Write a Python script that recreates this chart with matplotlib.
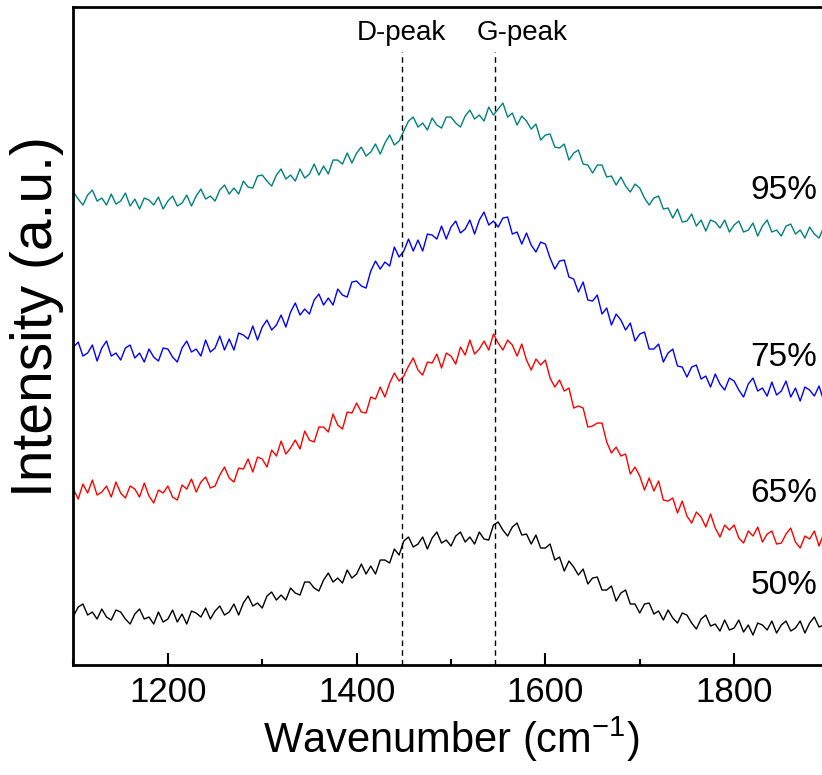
import numpy as np
import matplotlib
matplotlib.use("Agg")
import matplotlib.pyplot as plt
from matplotlib.ticker import MultipleLocator

plt.rcParams['font.family'] = ['Liberation Sans', 'DejaVu Sans']
plt.rcParams['mathtext.default'] = 'regular'

# wavenumber grid, 5 cm-1 step
wavenumber = np.arange(1100, 1901, 5)

# offset spectra (arbitrary units)
s95 = [473, 466, 460, 470, 475, 464, 467, 460, 471, 461,
       464, 472, 459, 466, 456, 467, 465, 460, 468, 456,
       464, 469, 459, 462, 470, 459, 469, 476, 466, 469,
       464, 475, 480, 471, 477, 471, 484, 478, 477, 489,
       490, 484, 479, 490, 496, 486, 490, 484, 496, 487,
       491, 501, 490, 499, 491, 505, 505, 501, 512, 502,
       512, 518, 509, 513, 521, 511, 522, 530, 520, 524,
       534, 544, 548, 538, 542, 535, 547, 540, 537, 548,
       548, 542, 538, 549, 555, 546, 550, 544, 558, 550,
       556, 562, 548, 552, 540, 549, 544, 536, 541, 525,
       530, 531, 518, 517, 521, 505, 512, 515, 501, 500,
       492, 500, 500, 488, 489, 480, 488, 479, 473, 481,
       477, 467, 460, 467, 469, 456, 457, 447, 456, 443,
       444, 451, 439, 445, 434, 445, 443, 437, 445, 433,
       440, 444, 433, 435, 442, 429, 439, 445, 433, 435,
       429, 439, 441, 431, 435, 427, 438, 431, 427, 438,
       432]

s75 = [318, 323, 309, 312, 320, 304, 317, 324, 309, 312,
       305, 317, 320, 307, 312, 303, 316, 308, 304, 317,
       316, 308, 303, 317, 324, 313, 316, 309, 325, 313,
       317, 329, 315, 326, 315, 332, 330, 326, 339, 325,
       338, 345, 335, 340, 350, 338, 353, 362, 350, 356,
       351, 365, 371, 360, 367, 360, 376, 370, 368, 383,
       384, 379, 377, 394, 404, 396, 403, 399, 418, 408,
       414, 426, 414, 425, 414, 431, 430, 426, 439, 426,
       438, 444, 432, 436, 445, 431, 445, 453, 440, 444,
       438, 447, 448, 431, 433, 421, 432, 420, 413, 423,
       421, 407, 396, 404, 405, 388, 386, 373, 383, 365,
       364, 370, 351, 357, 340, 351, 345, 335, 342, 324,
       331, 333, 316, 316, 321, 303, 312, 316, 299, 298,
       288, 298, 300, 286, 289, 278, 291, 281, 275, 287,
       284, 275, 268, 281, 287, 274, 277, 269, 283, 270,
       274, 284, 268, 277, 264, 278, 275, 269, 279, 264,
       270]

s65 = [176, 166, 181, 172, 185, 170, 173, 179, 168, 183,
       172, 167, 179, 176, 168, 182, 169, 162, 175, 172,
       179, 168, 165, 180, 176, 186, 173, 183, 188, 177,
       179, 190, 198, 187, 183, 197, 196, 206, 193, 208,
       206, 198, 215, 209, 224, 211, 217, 225, 216, 234,
       225, 223, 238, 238, 233, 251, 240, 236, 253, 252,
       262, 253, 252, 268, 266, 278, 268, 282, 292, 284,
       289, 299, 307, 295, 290, 303, 302, 311, 297, 312,
       309, 301, 318, 310, 325, 311, 316, 324, 315, 331,
       322, 315, 325, 320, 309, 321, 305, 295, 306, 300,
       305, 287, 278, 285, 274, 277, 257, 259, 257, 238,
       239, 242, 242, 223, 212, 218, 209, 211, 191, 198,
       189, 175, 187, 174, 184, 165, 164, 167, 152, 164,
       149, 142, 153, 148, 138, 151, 137, 128, 140, 135,
       140, 127, 122, 134, 129, 138, 123, 131, 134, 121,
       122, 131, 137, 123, 117, 129, 126, 134, 119, 132,
       126]

s50 = [49, 58, 61, 50, 53, 46, 56, 48, 45, 55,
       53, 46, 41, 51, 56, 46, 48, 41, 53, 43,
       46, 55, 43, 51, 41, 54, 52, 48, 57, 46,
       54, 59, 50, 53, 61, 50, 62, 69, 59, 62,
       57, 69, 73, 65, 70, 65, 77, 72, 70, 83,
       83, 77, 74, 85, 92, 83, 87, 82, 95, 87,
       91, 101, 91, 99, 91, 105, 105, 102, 116, 110,
       124, 128, 118, 121, 128, 116, 127, 133, 122, 125,
       119, 129, 133, 123, 128, 121, 133, 126, 125, 140,
       143, 135, 129, 138, 142, 130, 131, 121, 130, 117,
       117, 121, 105, 108, 94, 104, 98, 90, 96, 81,
       87, 88, 75, 75, 79, 64, 72, 75, 61, 61,
       52, 61, 62, 51, 54, 45, 55, 47, 42, 52,
       50, 42, 36, 46, 50, 39, 41, 34, 45, 35,
       37, 45, 33, 40, 30, 42, 40, 35, 44, 32,
       40, 44, 34, 37, 44, 32, 42, 48, 38, 40,
       38]

labels = ['95%', '75%', '65%', '50%']
label_y = [475, 308, 172, 80]
colors = ['#008080', '#0000ff', '#ff0000', '#000000']
peak_pos = [1448, 1547]
peak_names = ['D-peak', 'G-peak']
peak_label_x = [1448, 1575]

fig = plt.figure(figsize=(8.22, 7.75), dpi=100)
ax = fig.add_axes([0.0894, 0.1419, 0.9185, 0.849])

for s, c in zip([s95, s75, s65, s50], colors):
    ax.plot(wavenumber, s, color=c, lw=1.0)

for lab, yy in zip(labels, label_y):
    ax.text(1888, yy, lab, fontsize=24, ha='right', va='center')

# dashed markers for the D and G bands
ax.vlines(peak_pos, 0, 613, colors='k', linestyles=(0, (4, 3)), lw=1.0)
for name, xx in zip(peak_names, peak_label_x):
    ax.text(xx, 625, name, fontsize=20, ha='center', va='baseline')

ax.set_xlim(1100, 1900)
ax.set_ylim(0, 658)
ax.xaxis.set_major_locator(MultipleLocator(200))
ax.xaxis.set_minor_locator(MultipleLocator(100))
ax.set_yticks([])
ax.tick_params(axis='x', which='major', direction='in', length=8.6, width=1.5,
               labelsize=25, pad=8)
ax.tick_params(axis='x', which='minor', direction='in', length=4.3, width=1.5)
for sp in ax.spines.values():
    sp.set_linewidth(2)

ax.set_xlabel('Wavenumber (cm$^{-1}$)', fontsize=30, labelpad=4)
ax.set_ylabel('Intensity (a.u.)', fontsize=41)
ax.yaxis.set_label_coords(-0.012, 0.529)

fig.savefig('out.png', dpi=100)
